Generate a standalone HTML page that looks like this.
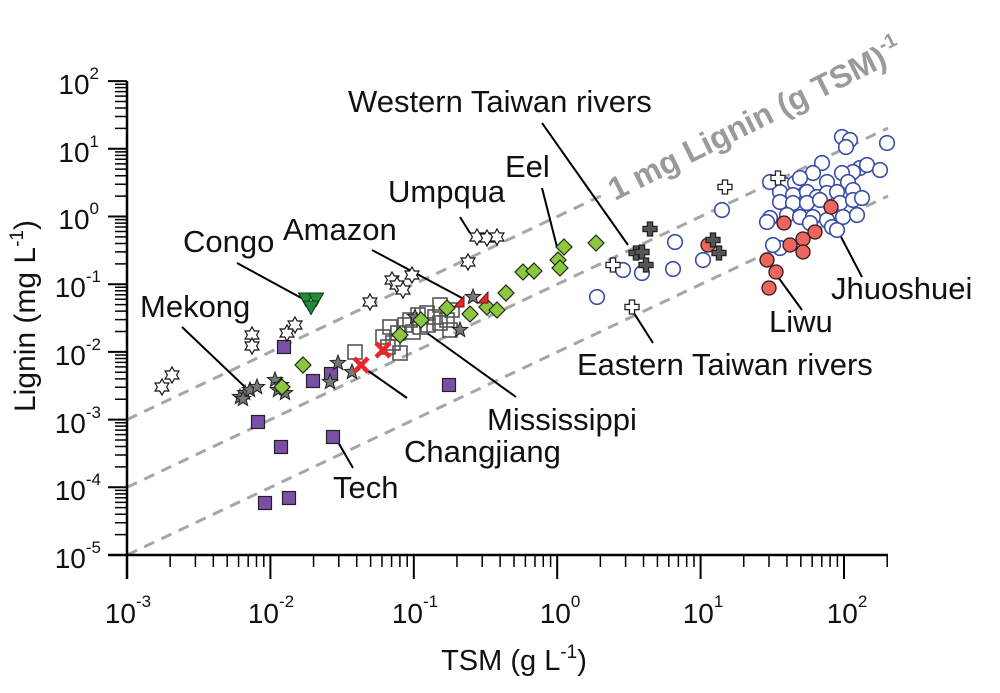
<!DOCTYPE html>
<html><head><meta charset="utf-8"><style>
html,body{margin:0;padding:0;background:#fff}
svg{display:block}
text{font-family:"Liberation Sans",Arial,sans-serif}
</style></head><body>
<svg width="1000" height="693" viewBox="0 0 1000 693" xmlns="http://www.w3.org/2000/svg">
<defs>
<circle id="cB" r="7.3" fill="#fff" stroke="#3a4ea8" stroke-width="1.6"/>
<circle id="cR" r="7" fill="#ee6461" stroke="#2a1a1a" stroke-width="1.3"/>
<polygon id="dG" points="0,-8 8,0 0,8 -8,0" fill="#8dc63f" stroke="#1c2a10" stroke-width="1.2"/>
<rect id="sP" x="-6.5" y="-6.5" width="13" height="13" fill="#7b4fa6" stroke="#222" stroke-width="1.2"/>
<rect id="sO" x="-7" y="-7" width="14" height="14" fill="none" stroke="#555" stroke-width="1.6"/>
<polygon id="hx" points="0,-8 2.31,-4 6.93,-4 4.62,0 6.93,4 2.31,4 0,8 -2.31,4 -6.93,4 -4.62,0 -6.93,-4 -2.31,-4" fill="#fff" stroke="#111" stroke-width="1.2"/>
<polygon id="st" points="0,-8 2,-2.75 7.61,-2.47 3.23,1.05 4.7,6.47 0,3.4 -4.7,6.47 -3.23,1.05 -7.61,-2.47 -2,-2.75" fill="#777" stroke="#222" stroke-width="1"/>
<polygon id="pW" points="-2.6,-7 2.6,-7 2.6,-2.6 7,-2.6 7,2.6 2.6,2.6 2.6,7 -2.6,7 -2.6,2.6 -7,2.6 -7,-2.6 -2.6,-2.6" fill="#fff" stroke="#222" stroke-width="1.3"/>
<polygon id="pD" points="-2.6,-7 2.6,-7 2.6,-2.6 7,-2.6 7,2.6 2.6,2.6 2.6,7 -2.6,7 -2.6,2.6 -7,2.6 -7,-2.6 -2.6,-2.6" fill="#555" stroke="#222" stroke-width="1.3"/>
<polygon id="tG" points="-7.5,-6 7.5,-6 0,7.5" fill="#1f8b3b" stroke="#0b3d18" stroke-width="1.1"/>
<g id="xR"><line x1="-7" y1="-7" x2="7" y2="7" stroke="#e8262a" stroke-width="4.5"/><line x1="-7" y1="7" x2="7" y2="-7" stroke="#e8262a" stroke-width="4.5"/></g>
<polygon id="tR" points="-5,5 5,-6 5,5" fill="#e8262a" stroke="#6a1010" stroke-width="1"/>
</defs>

<g stroke="#a6a6a6" stroke-width="3" stroke-dasharray="11,8" fill="none">
<line x1="127" y1="419.6" x2="606" y2="193.5"/>
<line x1="127" y1="487.3" x2="888" y2="128.1"/>
<line x1="127" y1="555" x2="888" y2="196"/>
</g>
<text transform="translate(615,201) rotate(-26.5)" font-size="32" font-weight="bold" fill="#9a9a9a">1 mg Lignin (g TSM)<tspan dy="-14" font-size="20">-1</tspan></text>

<g stroke="#000" fill="none">
<path d="M127 81 V579 M108 555 H888" stroke-width="2.5"/>
<path stroke-width="2" d="M108 555H127M108 487.3H127M108 419.6H127M108 351.9H127M108 284.2H127M108 216.5H127M108 148.8H127M108 81.1H127
M270.4 555V579M413.8 555V579M557.2 555V579M700.6 555V579M844 555V579"/>
<path stroke-width="1.5" d="
M115 534.62H127M115 522.7H127M115 514.24H127M115 507.68H127M115 502.33H127M115 497.79H127M115 493.87H127M115 490.41H127
M115 466.92H127M115 455H127M115 446.54H127M115 439.98H127M115 434.63H127M115 430.09H127M115 426.17H127M115 422.71H127
M115 399.22H127M115 387.3H127M115 378.84H127M115 372.28H127M115 366.93H127M115 362.39H127M115 358.47H127M115 355.01H127
M115 331.52H127M115 319.6H127M115 311.14H127M115 304.58H127M115 299.23H127M115 294.69H127M115 290.77H127M115 287.31H127
M115 263.82H127M115 251.9H127M115 243.44H127M115 236.88H127M115 231.53H127M115 226.99H127M115 223.07H127M115 219.61H127
M115 196.12H127M115 184.2H127M115 175.74H127M115 169.18H127M115 163.83H127M115 159.29H127M115 155.37H127M115 151.91H127
M115 128.42H127M115 116.5H127M115 108.04H127M115 101.48H127M115 96.13H127M115 91.59H127M115 87.67H127M115 84.21H127
M170.16 555V567M195.4 555V567M213.33 555V567M227.23 555V567M238.57 555V567M248.18 555V567M256.49 555V567M263.8 555V567
M313.56 555V567M338.8 555V567M356.73 555V567M370.63 555V567M381.97 555V567M391.58 555V567M399.89 555V567M407.2 555V567
M456.96 555V567M482.2 555V567M500.13 555V567M514.03 555V567M525.37 555V567M534.98 555V567M543.29 555V567M550.6 555V567
M600.36 555V567M625.6 555V567M643.53 555V567M657.43 555V567M668.77 555V567M678.38 555V567M686.69 555V567M694 555V567
M743.76 555V567M769 555V567M786.93 555V567M800.83 555V567M812.17 555V567M821.78 555V567M830.09 555V567M837.4 555V567
M887.2 555V567"/>
</g>

<g font-size="28" fill="#111" text-anchor="end">
<text x="99" y="94">10<tspan dy="-15" font-size="17">2</tspan></text>
<text x="99" y="162">10<tspan dy="-15" font-size="17">1</tspan></text>
<text x="99" y="229">10<tspan dy="-15" font-size="17">0</tspan></text>
<text x="101" y="297">10<tspan dy="-15" font-size="17">-1</tspan></text>
<text x="101" y="365">10<tspan dy="-15" font-size="17">-2</tspan></text>
<text x="101" y="433">10<tspan dy="-15" font-size="17">-3</tspan></text>
<text x="101" y="500">10<tspan dy="-15" font-size="17">-4</tspan></text>
<text x="101" y="568">10<tspan dy="-15" font-size="17">-5</tspan></text>
</g>
<g font-size="28" fill="#111" text-anchor="middle">
<text x="128" y="623">10<tspan dy="-16" font-size="17">-3</tspan></text>
<text x="271" y="623">10<tspan dy="-16" font-size="17">-2</tspan></text>
<text x="415" y="623">10<tspan dy="-16" font-size="17">-1</tspan></text>
<text x="560" y="623">10<tspan dy="-16" font-size="17">0</tspan></text>
<text x="703" y="623">10<tspan dy="-16" font-size="17">1</tspan></text>
<text x="847" y="623">10<tspan dy="-16" font-size="17">2</tspan></text>
</g>
<text x="514" y="670" font-size="29" text-anchor="middle" fill="#111">TSM (g L<tspan dy="-12" font-size="19">-1</tspan><tspan dy="12">)</tspan></text>
<text transform="translate(35,316) rotate(-90)" font-size="30" text-anchor="middle" fill="#111">Lignin (mg L<tspan dy="-12" font-size="19">-1</tspan><tspan dy="12">)</tspan></text>

<g stroke="#000" stroke-width="2" fill="none">
<line x1="237" y1="263" x2="305" y2="300"/>
<line x1="182" y1="327" x2="245" y2="387"/>
<line x1="372" y1="250" x2="462" y2="298"/>
<line x1="460" y1="217" x2="470" y2="233"/>
<line x1="542" y1="188" x2="557" y2="247"/>
<line x1="542" y1="123" x2="628" y2="245"/>
<line x1="632" y1="310" x2="653" y2="343"/>
<line x1="778" y1="277" x2="802" y2="310"/>
<line x1="840" y1="235" x2="862" y2="277"/>
<line x1="427" y1="333" x2="516" y2="397"/>
<line x1="367" y1="370" x2="407" y2="398"/>
<line x1="338" y1="442" x2="353" y2="468"/>
</g>

<g>
<use href="#cB" x="597" y="297"/><use href="#cB" x="623" y="270"/><use href="#cB" x="642" y="273"/>
<use href="#cB" x="673" y="269"/><use href="#cB" x="675" y="242"/><use href="#cB" x="703" y="260"/>
<use href="#cB" x="722" y="210"/><use href="#cB" x="780" y="248"/><use href="#cB" x="773" y="245"/>
<use href="#cB" x="842" y="137"/><use href="#cB" x="850" y="140"/><use href="#cB" x="846" y="147"/>
<use href="#cB" x="887" y="143"/><use href="#cB" x="822" y="163"/><use href="#cB" x="860" y="168"/>
<use href="#cB" x="867" y="165"/><use href="#cB" x="880" y="170"/><use href="#cB" x="853" y="172"/>
<use href="#cB" x="813" y="173"/><use href="#cB" x="842" y="173"/><use href="#cB" x="848" y="182"/>
<use href="#cB" x="827" y="182"/><use href="#cB" x="785" y="185"/><use href="#cB" x="795" y="183"/>
<use href="#cB" x="780" y="192"/><use href="#cB" x="793" y="195"/><use href="#cB" x="807" y="192"/>
<use href="#cB" x="817" y="197"/><use href="#cB" x="827" y="193"/><use href="#cB" x="837" y="192"/>
<use href="#cB" x="853" y="190"/><use href="#cB" x="780" y="202"/><use href="#cB" x="793" y="203"/>
<use href="#cB" x="807" y="203"/><use href="#cB" x="820" y="200"/><use href="#cB" x="840" y="203"/>
<use href="#cB" x="853" y="200"/><use href="#cB" x="770" y="218"/><use href="#cB" x="787" y="215"/>
<use href="#cB" x="800" y="217"/><use href="#cB" x="813" y="217"/><use href="#cB" x="827" y="220"/>
<use href="#cB" x="843" y="217"/><use href="#cB" x="857" y="215"/><use href="#cB" x="832" y="227"/>
<use href="#cB" x="837" y="230"/><use href="#cB" x="810" y="223"/><use href="#cB" x="770" y="182"/>
<use href="#cB" x="800" y="178"/><use href="#cB" x="862" y="198"/><use href="#cB" x="767" y="222"/>
</g>
<g>
<use href="#cR" x="708" y="245"/><use href="#cR" x="784" y="223"/><use href="#cR" x="831" y="207"/>
<use href="#cR" x="815" y="232"/><use href="#cR" x="803" y="239"/><use href="#cR" x="790" y="245"/>
<use href="#cR" x="803" y="252"/><use href="#cR" x="767" y="260"/><use href="#cR" x="776" y="272"/>
<use href="#cR" x="769" y="288"/>
</g>
<g>
<use href="#pW" x="613" y="265"/><use href="#pW" x="632" y="307"/><use href="#pW" x="725" y="187"/><use href="#pW" x="778" y="178"/>
<use href="#pD" x="650" y="229"/><use href="#pD" x="636" y="253"/><use href="#pD" x="642" y="252"/>
<use href="#pD" x="646" y="265"/><use href="#pD" x="713" y="240"/><use href="#pD" x="719" y="253"/>
</g>
<g>
<use href="#sO" x="355" y="352"/><use href="#sO" x="383" y="337"/><use href="#sO" x="390" y="327"/>
<use href="#sO" x="393" y="343"/><use href="#sO" x="398" y="333"/><use href="#sO" x="400" y="353"/>
<use href="#sO" x="405" y="325"/><use href="#sO" x="410" y="320"/><use href="#sO" x="413" y="332"/>
<use href="#sO" x="418" y="315"/><use href="#sO" x="420" y="327"/><use href="#sO" x="427" y="313"/>
<use href="#sO" x="428" y="325"/><use href="#sO" x="435" y="317"/><use href="#sO" x="440" y="323"/>
<use href="#sO" x="440" y="305"/><use href="#sO" x="447" y="320"/><use href="#sO" x="450" y="330"/>
<use href="#sO" x="452" y="310"/><use href="#sO" x="388" y="347"/>
</g>
<g>
<use href="#sP" x="284" y="347"/><use href="#sP" x="313" y="381"/><use href="#sP" x="331" y="374"/>
<use href="#sP" x="258" y="422"/><use href="#sP" x="281" y="447"/><use href="#sP" x="333" y="437"/>
<use href="#sP" x="265" y="503"/><use href="#sP" x="289" y="498"/><use href="#sP" x="449" y="385"/>
</g>
<g>
<use href="#st" x="240" y="397"/><use href="#st" x="245" y="393"/><use href="#st" x="250" y="390"/>
<use href="#st" x="257" y="387"/><use href="#st" x="243" y="399"/><use href="#st" x="275" y="380"/>
<use href="#st" x="278" y="390"/><use href="#st" x="285" y="393"/><use href="#st" x="281" y="385"/>
<use href="#st" x="338" y="363"/><use href="#st" x="330" y="382"/><use href="#st" x="352" y="372"/>
<use href="#st" x="460" y="330"/><use href="#st" x="473" y="297"/><use href="#st" x="415" y="317"/>
</g>
<g>
<use href="#hx" x="162" y="387"/><use href="#hx" x="172" y="375"/><use href="#hx" x="252" y="335"/>
<use href="#hx" x="252" y="346"/><use href="#hx" x="287" y="333"/><use href="#hx" x="295" y="325"/>
<use href="#hx" x="370" y="302"/><use href="#hx" x="392" y="280"/><use href="#hx" x="397" y="285"/>
<use href="#hx" x="403" y="290"/><use href="#hx" x="412" y="275"/><use href="#hx" x="468" y="262"/>
<use href="#hx" x="477" y="237"/><use href="#hx" x="487" y="238"/><use href="#hx" x="497" y="237"/>
</g>
<g>
<use href="#dG" x="282" y="387"/><use href="#dG" x="303" y="365"/><use href="#dG" x="400" y="335"/>
<use href="#dG" x="421" y="320"/><use href="#dG" x="447" y="308"/><use href="#dG" x="470" y="314"/>
<use href="#dG" x="487" y="307"/><use href="#dG" x="497" y="310"/><use href="#dG" x="506" y="293"/>
<use href="#dG" x="523" y="272"/><use href="#dG" x="534" y="271"/><use href="#dG" x="558" y="260"/>
<use href="#dG" x="560" y="268"/><use href="#dG" x="564" y="247"/><use href="#dG" x="596" y="243"/>
</g>
<use href="#tR" x="459" y="302"/><use href="#tR" x="483" y="298"/>
<use href="#xR" x="361" y="365"/><use href="#xR" x="383" y="350"/>
<use href="#tG" x="306" y="299"/><use href="#tG" x="316" y="299"/><use href="#tG" x="311" y="307"/>

<g font-size="31" fill="#111">
<text x="348" y="112">Western Taiwan rivers</text>
<text x="505" y="177">Eel</text>
<text x="388" y="202">Umpqua</text>
<text x="183" y="252">Congo</text>
<text x="283" y="240">Amazon</text>
<text x="140" y="317">Mekong</text>
<text x="577" y="375">Eastern Taiwan rivers</text>
<text x="769" y="332">Liwu</text>
<text x="831" y="299">Jhuoshuei</text>
<text x="487" y="430">Mississippi</text>
<text x="404" y="462">Changjiang</text>
<text x="333" y="498">Tech</text>
</g>
</svg>
</body></html>
